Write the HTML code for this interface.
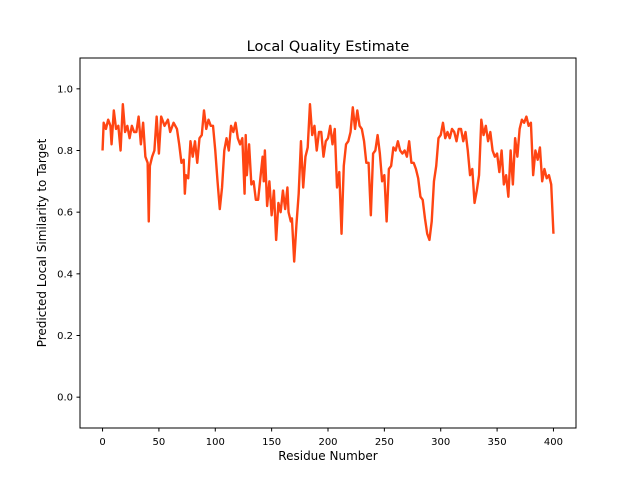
<!DOCTYPE html>
<html><head><meta charset="utf-8"><style>
body{margin:0;background:#fff}
svg text{font-family:"DejaVu Sans","Liberation Sans",sans-serif;fill:#000}
</style></head><body>
<svg id="chart" width="640" height="480" xmlns="http://www.w3.org/2000/svg">
<rect width="640" height="480" fill="#fff"/>
<text x="328" y="51" font-size="14.5" text-anchor="middle">Local Quality Estimate</text>
<g id="xt"></g>
<g id="yt"></g>
<path id="line" fill="none" stroke="#ff4513" stroke-width="2.4" stroke-linejoin="round"/>
<rect x="80" y="58" width="496" height="370" fill="none" stroke="#000" stroke-width="1"/>
<text x="328" y="460" font-size="12" text-anchor="middle">Residue Number</text>
<text transform="translate(46,243) rotate(-90)" font-size="12" text-anchor="middle">Predicted Local Similarity to Target</text>
</svg>
<script>
const residues=[0,1,3,5,7,8,10,12,14,16,18,20,22,24,26,28,30,32,34,36,38,40,41,42,44,46,48,50,52,55,58,60,63,66,68,70,72,73,74,76,78,80,82,84,86,88,90,92,94,96,98,100,102,104,106,108,110,112,114,116,118,120,122,124,126,127,128,130,132,134,136,138,140,142,143,144,146,148,150,152,154,156,158,160,162,164,165,167,168,170,172,174,176,178,180,182,184,186,188,190,192,194,196,198,200,202,204,206,208,210,212,214,216,218,220,222,224,226,228,230,232,234,236,238,240,242,244,246,248,250,252,254,256,258,260,262,264,266,268,270,272,274,276,278,280,282,284,286,288,290,292,294,296,298,300,302,304,306,308,310,312,314,316,318,320,322,324,326,328,330,332,334,336,338,340,342,344,346,348,350,352,354,356,358,360,362,364,366,368,370,372,374,376,378,380,382,384,386,388,390,392,394,396,398,400];
const scores=[0.80,0.89,0.87,0.90,0.88,0.82,0.93,0.87,0.88,0.80,0.95,0.86,0.88,0.84,0.88,0.86,0.86,0.91,0.82,0.89,0.78,0.76,0.57,0.75,0.78,0.80,0.91,0.79,0.91,0.88,0.90,0.86,0.89,0.87,0.82,0.76,0.77,0.66,0.72,0.71,0.83,0.78,0.83,0.76,0.84,0.85,0.93,0.87,0.90,0.88,0.88,0.80,0.70,0.61,0.68,0.80,0.84,0.80,0.88,0.86,0.89,0.84,0.82,0.84,0.66,0.85,0.72,0.82,0.69,0.70,0.64,0.64,0.71,0.78,0.70,0.80,0.62,0.70,0.59,0.67,0.51,0.63,0.60,0.67,0.61,0.68,0.60,0.57,0.58,0.44,0.56,0.66,0.83,0.68,0.78,0.81,0.95,0.85,0.88,0.80,0.86,0.86,0.78,0.83,0.84,0.88,0.82,0.87,0.68,0.73,0.53,0.75,0.82,0.83,0.86,0.94,0.87,0.93,0.88,0.87,0.83,0.76,0.76,0.59,0.79,0.80,0.85,0.79,0.70,0.72,0.57,0.74,0.75,0.81,0.80,0.83,0.80,0.79,0.80,0.78,0.83,0.76,0.76,0.74,0.71,0.65,0.64,0.58,0.53,0.51,0.57,0.70,0.75,0.84,0.85,0.89,0.84,0.86,0.84,0.87,0.86,0.83,0.87,0.87,0.83,0.86,0.80,0.72,0.74,0.63,0.67,0.72,0.90,0.85,0.88,0.83,0.86,0.80,0.78,0.79,0.73,0.80,0.69,0.72,0.65,0.80,0.69,0.84,0.78,0.87,0.90,0.89,0.91,0.88,0.89,0.72,0.80,0.77,0.81,0.70,0.74,0.71,0.72,0.69,0.53];
const xTicks=[0,50,100,150,200,250,300,350,400];
const yTicks=[0.0,0.2,0.4,0.6,0.8,1.0];
const X0=80,X1=576,Y0=58,Y1=428,xmin=-20,xmax=420,ymin=-0.1,ymax=1.1;
function sx(v){return X0+(v-xmin)/(xmax-xmin)*(X1-X0);}
function sy(v){return Y1-(v-ymin)/(ymax-ymin)*(Y1-Y0);}
const NS='http://www.w3.org/2000/svg';
let d='';
residues.forEach((r,i)=>{d+=(i?'L':'M')+sx(r).toFixed(2)+','+sy(scores[i]).toFixed(2);});
document.getElementById('line').setAttribute('d',d);
const xt=document.getElementById('xt'),yt=document.getElementById('yt');
xTicks.forEach(t=>{
 const l=document.createElementNS(NS,'line');
 l.setAttribute('x1',sx(t));l.setAttribute('x2',sx(t));l.setAttribute('y1',Y1);l.setAttribute('y2',Y1+3.5);l.setAttribute('stroke','#000');
 
 
 xt.appendChild(l);
 const tx=document.createElementNS(NS,'text');
 tx.setAttribute('x',sx(t));tx.setAttribute('y',Y1+17);tx.setAttribute('font-size','10');tx.setAttribute('text-anchor','middle');
 tx.textContent=t;
 
 
 xt.appendChild(tx);
});
yTicks.forEach(t=>{
 const l=document.createElementNS(NS,'line');
 l.setAttribute('x1',X0-3.5);l.setAttribute('x2',X0);l.setAttribute('y1',sy(t));l.setAttribute('y2',sy(t));l.setAttribute('stroke','#000');
 
 
 yt.appendChild(l);
 const tx=document.createElementNS(NS,'text');
 tx.setAttribute('x',X0-7);tx.setAttribute('y',sy(t)+3.5);tx.setAttribute('font-size','10');tx.setAttribute('text-anchor','end');
 tx.textContent=t.toFixed(1);
 
 
 yt.appendChild(tx);
});
</script>
</body></html>
